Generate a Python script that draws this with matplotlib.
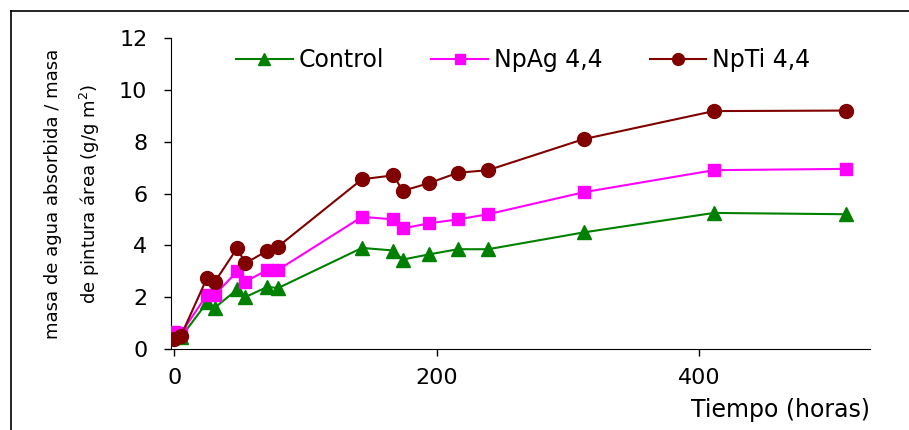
import matplotlib.pyplot as plt
from matplotlib.lines import Line2D

plt.rcParams['font.family'] = ['DejaVu Sans']

# tiempo (horas)
horas = [0, 5, 25, 31, 48, 54, 71, 79, 143, 167, 174, 194, 216, 239, 312, 411, 512]

control = [0.5, 0.45, 1.8, 1.6, 2.3, 2.0, 2.4, 2.35, 3.9, 3.8, 3.45, 3.65, 3.85, 3.85, 4.5, 5.25, 5.2]
npag = [0.65, 0.6, 2.1, 2.1, 3.0, 2.6, 3.05, 3.05, 5.1, 5.0, 4.65, 4.85, 5.0, 5.2, 6.05, 6.9, 6.95]
npti = [0.38, 0.5, 2.75, 2.6, 3.9, 3.3, 3.8, 3.95, 6.55, 6.7, 6.1, 6.4, 6.8, 6.9, 8.1, 9.18, 9.2]

series = ["Control", "NpAg 4,4", "NpTi 4,4"]

fig = plt.figure(figsize=(9.09, 4.30), dpi=100)
ax = fig.add_axes([171 / 909, 1 - 349 / 430, (870 - 171) / 909, (349 - 38) / 430])

ax.plot(horas, control, color='#008000', lw=1.5, marker='^', ms=10, label=series[0], zorder=3)
ax.plot(horas, npag, color='#ff00ff', lw=1.5, marker='s', ms=9, label=series[1], zorder=4)
ax.plot(horas, npti, color='#800000', lw=1.5, marker='o', ms=10, label=series[2], zorder=5)

ax.set_xlim(-2.5, 530)
ax.set_ylim(0, 12)
ax.set_xticks([0, 200, 400])
ax.set_yticks(range(0, 13, 2))
ax.spines['top'].set_visible(False)
ax.spines['right'].set_visible(False)
ax.tick_params(direction='out', length=5, width=1, labelsize=16)
ax.tick_params(axis='y', pad=12)
ax.tick_params(axis='x', pad=9)

ax.set_ylabel("masa de agua absorbida / masa\nde pintura área (g/g m$^2$)", fontsize=13,
              labelpad=12, linespacing=1.9)
ax.set_xlabel("Tiempo (horas)", fontsize=17, loc='right', labelpad=7)

ax.legend(loc='center left', bbox_to_anchor=(0.093, 0.929), ncol=3, frameon=False,
          fontsize=17, handlelength=2.4, handletextpad=0.25, columnspacing=2.0,
          borderpad=0, borderaxespad=0, markerscale=0.85)

# marco del grafico
fig.add_artist(Line2D([11 / 909, 11 / 909], [0, 1 - 11 / 430], color='black', lw=1.2))
fig.add_artist(Line2D([11 / 909, 1], [1 - 11 / 430, 1 - 11 / 430], color='black', lw=1.2))

fig.savefig("out.png", dpi=100)
